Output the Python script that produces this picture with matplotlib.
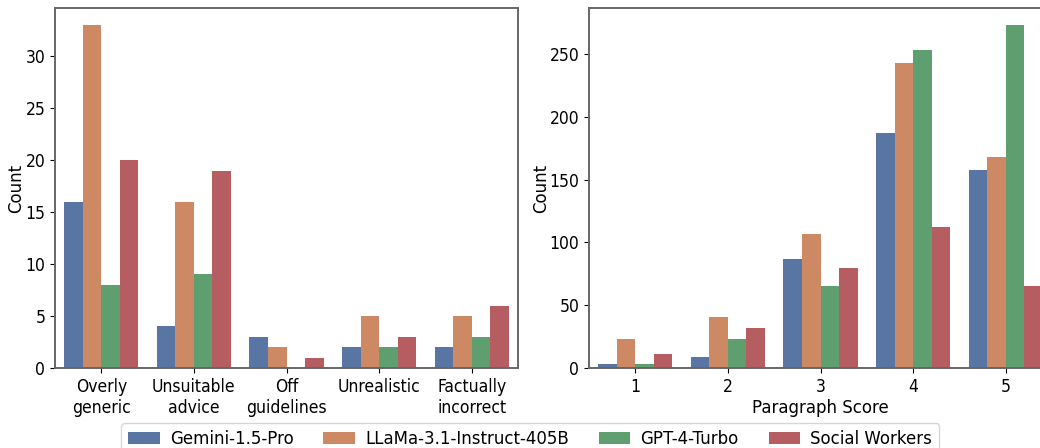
import numpy as np
import matplotlib
matplotlib.use("Agg")
import matplotlib.pyplot as plt

models = ["Gemini-1.5-Pro", "LLaMa-3.1-Instruct-405B", "GPT-4-Turbo", "Social Workers"]
colors = ["#5975A4", "#CC8963", "#5F9E6E", "#B55D60"]

# left panel: error categories
error_types = ["Overly\ngeneric", "Unsuitable\nadvice", "Off\nguidelines", "Unrealistic", "Factually\nincorrect"]
gemini_err = [16, 4, 3, 2, 2]
llama_err = [33, 16, 2, 5, 5]
gpt_err = [8, 9, 0, 2, 3]
social_err = [20, 19, 1, 3, 6]

# right panel: paragraph scores
scores = ["1", "2", "3", "4", "5"]
gemini_sc = [3, 9, 87, 187, 158]
llama_sc = [23, 41, 107, 243, 168]
gpt_sc = [3, 23, 65, 253, 273]
social_sc = [11, 32, 80, 112, 65]

plt.rcParams["font.size"] = 12
plt.rcParams["font.family"] = ["DejaVu Sans"]

W, H = 1040, 448
fig = plt.figure(figsize=(W / 100, H / 100), dpi=100)
ax1 = fig.add_axes([55 / W, 80 / H, 463 / W, 360 / H])
ax2 = fig.add_axes([589 / W, 80 / H, 463 / W, 360 / H])


def grouped(ax, labels, series):
    x = np.arange(len(labels))
    w = 0.2
    bars = []
    for i, vals in enumerate(series):
        b = ax.bar(x - 0.3 + i * w, vals, width=w, color=colors[i], label=models[i])
        bars.append(b)
    ax.set_xticks(x)
    ax.set_xticklabels(labels)
    ax.set_xlim(-0.5, len(labels) - 0.5)
    ax.set_ylabel("Count")
    for s in ax.spines.values():
        s.set_color("#666666")
        s.set_linewidth(1.4)
    return bars


grouped(ax1, error_types, [gemini_err, llama_err, gpt_err, social_err])
ax1.set_yticks(range(0, 31, 5))
ax1.yaxis.set_label_coords(-0.065, 0.5)

bars = grouped(ax2, scores, [gemini_sc, llama_sc, gpt_sc, social_sc])
ax2.set_yticks(range(0, 251, 50))
ax2.set_xlabel("Paragraph Score", labelpad=2)
ax2.yaxis.set_label_coords(-0.085, 0.5)

for ax in (ax1, ax2):
    for t in ax.get_xticklabels() + ax.get_yticklabels():
        t.set_fontstretch("condensed")
        t.set_fontsize(12.5)

fig.legend(handles=bars, labels=models, ncol=4, loc="upper left",
           bbox_to_anchor=(113 / W, 33 / H), frameon=True,
           columnspacing=1.8, handlelength=1.9, handletextpad=0.6)

fig.savefig("out.png", dpi=100)
